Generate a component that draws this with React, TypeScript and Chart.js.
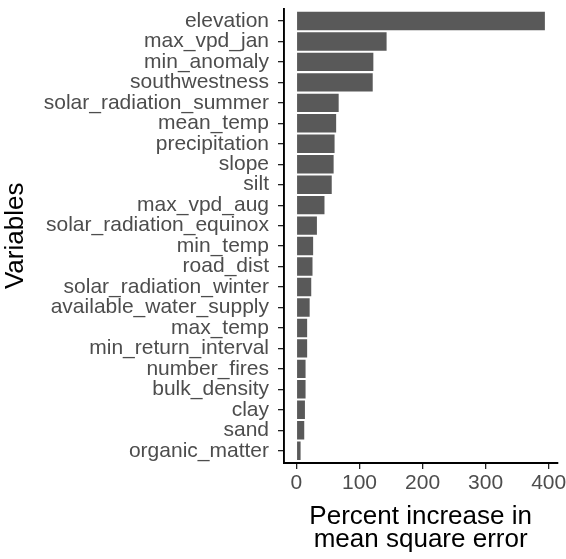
import React, { useEffect, useRef } from "react";
import { Chart, registerables } from "chart.js";

Chart.register(...registerables);

const categories = [
  "elevation",
  "max_vpd_jan",
  "min_anomaly",
  "southwestness",
  "solar_radiation_summer",
  "mean_temp",
  "precipitation",
  "slope",
  "silt",
  "max_vpd_aug",
  "solar_radiation_equinox",
  "min_temp",
  "road_dist",
  "solar_radiation_winter",
  "available_water_supply",
  "max_temp",
  "min_return_interval",
  "number_fires",
  "bulk_density",
  "clay",
  "sand",
  "organic_matter",
];

const values = [
  394, 143, 122, 121, 67, 63, 60.5, 59, 56, 44.5, 32.5, 26.5, 25.5, 23.5, 21,
  17, 17, 14.5, 14.5, 13.5, 12.4, 6.6,
];

const xTicks = [0, 100, 200, 300, 400];
const xTitle = ["Percent increase in", "mean square error"];
const yTitle = "Variables";

const FONT = "'Liberation Sans', Arial, Helvetica, sans-serif";

export default function App() {
  const ref = useRef<HTMLCanvasElement | null>(null);

  useEffect(() => {
    document.body.style.margin = "0";
    const canvas = ref.current;
    if (!canvas) return;
    const dataMax = Math.max(...values);
    const pad = dataMax * 0.05;
    const n = categories.length;
    const chart = new Chart(canvas, {
      type: "bar",
      data: {
        datasets: [
          {
            data: categories.map((_, i) => ({ x: values[i], y: i })),
            backgroundColor: "#595959",
            borderWidth: 0,
            barPercentage: 0.9,
            categoryPercentage: 1,
          },
        ],
      },
      options: {
        indexAxis: "y",
        responsive: false,
        animation: false,
        devicePixelRatio: 1,
        layout: { padding: { top: 8.7, right: 8.7, left: 0, bottom: 0 } },
        plugins: { legend: { display: false }, tooltip: { enabled: false } },
        scales: {
          x: {
            type: "linear",
            position: "bottom",
            offset: false,
            min: -pad,
            max: dataMax + pad,
            afterBuildTicks: (s: any) => {
              s.ticks = xTicks.map((v) => ({ value: v }));
            },
            afterFit: (s: any) => {
              s.height = 96;
              s.paddingLeft = 0;
              s.paddingRight = 0;
            },
            grid: {
              display: true,
              offset: false,
              drawOnChartArea: false,
              drawTicks: true,
              tickLength: 6,
              color: "#222222",
              lineWidth: 1.3,
            },
            border: { display: true, color: "#000000", width: 1.9 },
            ticks: {
              color: "#4D4D4D",
              font: { size: 21, family: FONT },
              padding: 2,
              maxRotation: 0,
              autoSkip: false,
            },
            title: {
              display: true,
              text: xTitle,
              color: "#000000",
              font: { size: 26, family: FONT, lineHeight: 0.9 },
              padding: { top: 2, bottom: 7 },
            },
          },
          y: {
            type: "linear",
            position: "left",
            reverse: true,
            offset: false,
            min: -0.6,
            max: n - 1 + 0.6,
            afterBuildTicks: (s: any) => {
              s.ticks = categories.map((_, i) => ({ value: i }));
            },
            afterFit: (s: any) => {
              s.width = 284;
              s.paddingTop = 0;
              s.paddingBottom = 0;
            },
            grid: {
              display: true,
              offset: false,
              drawOnChartArea: false,
              drawTicks: true,
              tickLength: 6,
              color: "#222222",
              lineWidth: 1.3,
            },
            border: { display: true, color: "#000000", width: 1.9 },
            ticks: {
              color: "#4D4D4D",
              font: { size: 21, family: FONT },
              padding: 9,
              autoSkip: false,
              callback: (v: any) => categories[v as number] ?? "",
            },
            title: {
              display: true,
              text: yTitle,
              color: "#000000",
              font: { size: 26, family: FONT },
              padding: { top: 0, bottom: 0 },
            },
          },
        },
      },
    } as any);
    return () => chart.destroy();
  }, []);

  return (
    <div style={{ width: 566, height: 559 }}>
      <canvas ref={ref} width={566} height={559} style={{ display: "block" }} />
    </div>
  );
}
